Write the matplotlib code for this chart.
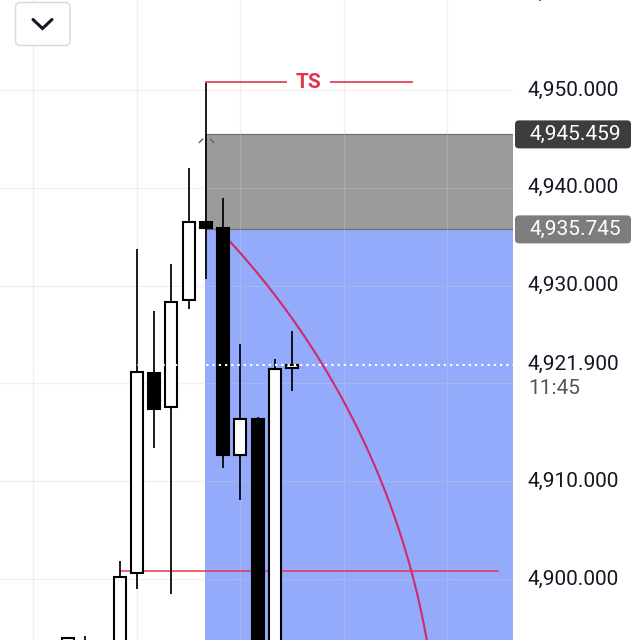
import numpy as np
import matplotlib
matplotlib.use("Agg")
import matplotlib.pyplot as plt
from matplotlib.patches import FancyBboxPatch, Rectangle
from matplotlib.path import Path

plt.rcParams['font.family'] = ['Roboto', 'DejaVu Sans']

# ---------------- data ----------------
bar_idx = list(range(14))
opens  = [4887.0, 4890.5, 4892.5, 4889.0, 4900.6, 4921.1, 4917.6, 4928.5, 4936.5, 4935.9, 4912.7, 4916.4, 4889.0, 4921.6]
highs  = [4894.0, 4894.2, 4893.4, 4901.8, 4933.7, 4927.4, 4932.2, 4942.0, 4950.7, 4939.0, 4924.0, 4916.6, 4922.5, 4925.4]
lows   = [4884.0, 4888.0, 4887.0, 4887.5, 4899.0, 4913.4, 4898.5, 4927.6, 4930.7, 4911.3, 4908.1, 4885.0, 4887.0, 4919.2]
closes = [4894.0, 4892.8, 4889.5, 4900.2, 4921.2, 4917.4, 4928.3, 4936.5, 4935.9, 4912.7, 4916.4, 4888.0, 4921.5, 4921.9]

price_ticks = [4900, 4910, 4920, 4930, 4940, 4950, 4960]
last_price = 4921.9
last_time = "11:45"
zone_top = 4945.459
zone_mid = 4935.745
zone_start = 8
ts_price = 4950.8
ts_start, ts_end = 8, 20.0
hline_price = 4900.8
hline_start, hline_end = 3, 25
arc_center = (-24.6, 4879.54)
arc_radii = (46.12, 81.35)
grid_x = [-2, 4, 10, 16, 22]

XLIM = (-3.93, 25.78)
YLIM = (4893.76, 4959.2)

# ---------------- figure ----------------
fig = plt.figure(figsize=(6.4, 6.4), dpi=100)
fig.patch.set_facecolor('white')
ax = fig.add_axes([0, 0, 512.5 / 640, 1])
ax.set_xlim(*XLIM)
ax.set_ylim(*YLIM)
ax.set_facecolor('white')
for s in ax.spines.values():
    s.set_visible(False)
ax.set_xticks([])
ax.set_yticks([])

# zones
ax.add_patch(Rectangle((zone_start - 0.05, zone_mid), 40, zone_top - zone_mid,
                       facecolor='#9b9b9b', edgecolor='none', zorder=1))
ax.add_patch(Rectangle((zone_start - 0.05, YLIM[0] - 20), 40, zone_mid - YLIM[0] + 20,
                       facecolor='#94aafa', edgecolor='none', zorder=1))
ax.hlines([zone_top, zone_mid], zone_start - 0.05, XLIM[1] + 1, colors='#707070', lw=0.9, zorder=2)

# grid
for gx in grid_x:
    ax.axvline(gx, color='#d0d0d0', alpha=0.3, lw=0.9, zorder=2)
for p in price_ticks:
    ax.axhline(p, color='#d0d0d0', alpha=0.3, lw=0.9, zorder=2)

# arc
t0 = np.arcsin((zone_mid - arc_center[1]) / arc_radii[1])
t = np.linspace(t0, np.radians(4), 300)
ax.plot(arc_center[0] + arc_radii[0] * np.cos(t), arc_center[1] + arc_radii[1] * np.sin(t),
        color='#d12a6c', lw=1.5, zorder=3)

# horizontal red line
ax.hlines(hline_price, hline_start, hline_end, colors='#e63950', lw=1.1, zorder=3)

# TS marker
gap_l, gap_r = 12.7, 15.2
ax.hlines(ts_price, ts_start - 0.05, gap_l, colors='#e03550', lw=1.2, zorder=3)
ax.hlines(ts_price, gap_r, ts_end, colors='#e03550', lw=1.2, zorder=3)
ax.text((gap_l + gap_r) / 2, ts_price, "TS", color='#e03550', fontsize=15, fontweight='bold',
        ha='center', va='center', zorder=4)

# candles
w = 0.7
for x, o, h, l, c in zip(bar_idx, opens, highs, lows, closes):
    ax.vlines(x, l, h, colors='black', lw=1.25, zorder=5)
    up = c >= o
    ax.bar(x, abs(c - o), bottom=min(o, c), width=w,
           color='white' if up else 'black', edgecolor='black', linewidth=1.5, zorder=6)

# caret marker near zone top
caret = Path([(-1, -0.45), (-0.45, 0.1), (0.45, 0.1), (1, -0.45)],
             [Path.MOVETO, Path.LINETO, Path.MOVETO, Path.LINETO])
ax.plot([zone_start], [zone_top - 0.5], marker=caret, markersize=11, markeredgewidth=1.1,
        color='#666666', zorder=7, linestyle='none')

# last price dotted line
ax.axhline(last_price, color='white', lw=1.5, linestyle=(0, (1.1, 1.9)), zorder=8)

# ---------------- overlay (pixel coordinates) ----------------
ov = fig.add_axes([0, 0, 1, 1], zorder=10)
ov.set_xlim(0, 640)
ov.set_ylim(640, 0)
ov.axis('off')
ov.patch.set_alpha(0)

def ypix(p):
    return 640 - ax.transData.transform((0, p))[1]

label_x = 528
fs = 15
for p in price_ticks:
    if abs(p - last_price) < 3:
        continue
    ov.text(label_x, ypix(p), f"{p:,.3f}", fontsize=fs, color='#131722', ha='left', va='center')

ov.text(label_x, ypix(last_price), f"{last_price:,.3f}", fontsize=fs, color='#131722',
        ha='left', va='center')
ov.text(label_x, ypix(last_price) + 23.5, last_time, fontsize=fs, color='#555555',
        ha='left', va='center')

for p, col in [(zone_top, '#3d3d3d'), (zone_mid, '#7d7d7d')]:
    yc = ypix(p)
    ov.add_patch(FancyBboxPatch((515, yc - 14), 116, 28,
                                boxstyle="round,pad=0,rounding_size=4",
                                facecolor=col, edgecolor='none'))
    ov.text(529, yc, f"{p:,.3f}", fontsize=fs, color='white', ha='left', va='center')

# dropdown button
ov.add_patch(FancyBboxPatch((15.5, 2.5), 54.5, 43,
                            boxstyle="round,pad=0,rounding_size=5",
                            facecolor='white', edgecolor='#d8d8d8', lw=1.0))
ov.plot([33, 42.5, 52], [19.5, 28.5, 19.5], color='#131722', lw=2.2,
        solid_capstyle='round', solid_joinstyle='miter')

fig.savefig("out.png", dpi=100, facecolor='white')
